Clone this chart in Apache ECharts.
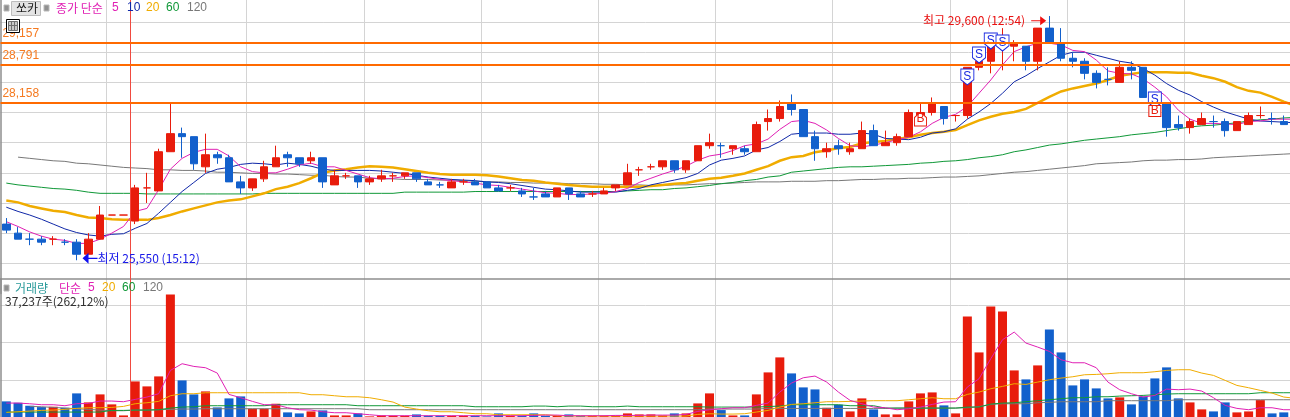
<!DOCTYPE html>
<html>
<head>
<meta charset="utf-8">
<title>쏘카</title>
<style>html,body{margin:0;padding:0;background:#fff}#chart{width:1290px;height:417px}</style>
<script src="https://cdn.jsdelivr.net/npm/echarts@6/dist/echarts.min.js"></script>
</head>
<body>
<div id="chart"></div>
<script>
// Intraday candles: open, close, high, low
const opens = [26150,26000,25900,25900,25900,25850,25850,25650,25900,26300,26300,26200,26750,26700,27350,27650,27600,27100,27300,27250,26850,26750,26900,27100,27300,27250,27200,27250,
26800,26950,26950,26850,26900,26950,26950,27000,26850,26800,26750,26850,26850,26850,26750,26750,26700,26600,26650,26600,26750,26650,26650,26650,26750,26800,27050,27100,
27100,27200,27050,27200,27450,27450,27400,27400,27350,27850,27900,28150,28050,27600,27350,27450,27350,27400,27700,27450,27500,27600,27950,28000,28100,27950,27950,
28750,28850,29100,29100,29100,28850,29400,29150,28900,28850,28650,28550,28500,28750,28750,28250,28150,27800,27750,27800,27850,27850,27700,27800,27950,27900,27850];
const closes = [26050,25900,25900,25850,25900,25850,25650,25900,26300,26300,26300,26750,26750,27350,27650,27600,27150,27300,27250,26850,26750,26900,27100,27250,27250,27150,27250,26850,
26950,26950,26850,26900,26950,26950,27000,26900,26800,26800,26850,26850,26800,26750,26700,26750,26650,26600,26600,26750,26650,26600,26650,26700,26800,27000,27050,27100,
27200,27050,27200,27450,27500,27450,27450,27350,27800,27900,28100,28050,27600,27400,27400,27400,27400,27700,27450,27500,27600,28000,28000,28150,27900,27950,28750,
28850,29100,29100,29150,28850,29400,29150,28900,28850,28650,28500,28550,28750,28700,28250,28150,27750,27750,27850,27900,27850,27700,27850,27950,27950,27900,27800];
const highs = [26250,26100,26000,25950,25950,25900,25900,26000,26450,26300,26300,26800,27000,27400,28150,27750,27600,27650,27350,27300,26950,26900,27200,27450,27350,27250,27350,27250,
27050,27000,26950,26950,27050,27000,27000,27000,26900,26850,26900,26900,26900,26850,26800,26800,26750,26750,26700,26750,26750,26700,26700,26750,26800,27150,27100,27150,
27200,27200,27200,27450,27650,27500,27450,27450,27850,28050,28200,28300,28050,27700,27500,27550,27500,27850,27800,27700,27650,28050,28150,28250,28100,27950,28750,
28950,29300,29400,29200,29100,29400,29600,29400,29000,28900,28700,28750,28850,28850,28750,28250,28150,27950,27900,28000,27950,27900,27850,28000,28100,28000,27950];
const lows = [26000,25900,25800,25800,25800,25800,25550,25650,25900,26300,26300,26150,26500,26700,27350,27250,27050,27000,27150,26850,26650,26700,26850,27100,27100,27100,27150,26750,
26800,26900,26750,26800,26850,26850,26900,26850,26800,26750,26750,26800,26800,26750,26700,26700,26600,26550,26600,26600,26550,26600,26600,26650,26700,26800,26950,27050,
27050,27000,27000,27200,27400,27250,27300,27300,27350,27700,27850,27950,27600,27200,27250,27300,27300,27400,27450,27450,27450,27600,27900,27950,27800,27850,27900,
28700,28650,28700,28850,28700,28700,29150,28850,28750,28550,28400,28450,28500,28550,28250,28050,27600,27700,27650,27800,27750,27600,27700,27800,27900,27800,27800];
// Candles with open == close that closed weaker than the previous print
const fallingDoji = [2,5,37,45,61,94,103,108];

// Price moving averages; the last entry is the running value past the latest candle
const priceMa5 = [26190,26110,26020,25950,25900,25880,25830,25830,25900,26000,26110,26360,26410,26720,27060,27240,27340,27390,27390,27280,27100,27020,27000,27000,27060,27130,27160,27100,
27100,27040,26980,26920,26900,26910,26940,26950,26920,26890,26870,26850,26830,26800,26790,26760,26730,26700,26670,26660,26640,26640,26650,26660,26690,26740,26840,26910,
26980,27040,27110,27210,27280,27310,27370,27450,27480,27560,27720,27850,27870,27820,27710,27570,27450,27430,27460,27500,27550,27590,27680,27820,27920,27970,28100,
28320,28540,28790,29010,29090,29150,29150,29120,29030,29010,28870,28690,28650,28640,28560,28420,28260,28040,27890,27820,27820,27810,27800,27850,27860,27890,27890,27890];
const priceMa10 = [26430,26360,26300,26230,26150,26070,26010,25970,25950,25980,25990,26080,26160,26330,26510,26690,26840,26990,27060,27090,27140,27160,27150,27130,27160,27140,27110,27060,
27040,27040,27040,27040,27030,27010,26990,26960,26930,26910,26890,26880,26870,26850,26840,26820,26790,26760,26730,26720,26700,26680,26680,26680,26680,26710,26740,26800,
26840,26880,26920,26990,27130,27210,27240,27280,27380,27420,27520,27640,27660,27660,27660,27640,27640,27660,27640,27570,27560,27550,27590,27660,27680,27730,27890,
28010,28150,28320,28510,28610,28730,28840,28950,29000,29000,28950,28900,28850,28820,28730,28620,28480,28370,28290,28180,28090,28010,27950,27890,27860,27850,27840,27830];
const priceMa20 = [26540,26510,26450,26410,26370,26350,26300,26260,26250,26230,26220,26220,26220,26250,26300,26360,26410,26460,26510,26540,26560,26610,26660,26730,26770,26830,26910,27000,
27040,27060,27090,27110,27100,27090,27060,27030,27000,26980,26970,26970,26970,26960,26940,26910,26880,26870,26840,26820,26800,26780,26770,26770,26770,26770,26770,26780,
26800,26820,26830,26870,26900,26920,26950,26990,27050,27110,27200,27260,27280,27340,27370,27410,27430,27490,27510,27530,27560,27590,27630,27660,27680,27710,27790,
27870,27930,27980,28010,28060,28160,28260,28350,28400,28440,28480,28540,28610,28640,28670,28670,28670,28660,28660,28610,28570,28510,28420,28360,28330,28260,28180,28110];
const priceMa60 = [26830,26800,26780,26760,26740,26730,26710,26680,26660,26660,26660,26660,26650,26650,26650,26650,26650,26650,26650,26650,26650,26650,26660,26660,26660,26660,26660,26660,
26660,26660,26660,26660,26660,26660,26680,26680,26680,26680,26680,26680,26690,26690,26690,26690,26690,26690,26690,26690,26690,26690,26690,26690,26690,26700,26710,26720,
26720,26740,26750,26770,26790,26820,26840,26870,26890,26930,26950,27010,27030,27050,27070,27090,27100,27100,27110,27120,27130,27140,27160,27170,27190,27200,27220,
27250,27270,27300,27350,27380,27420,27460,27480,27510,27540,27560,27580,27600,27630,27650,27670,27700,27730,27760,27780,27790,27810,27830,27860,27880,27890,27910,27920];
const priceMa120 = [null,27260,27240,27220,27200,27190,27160,27150,27130,27110,27090,27080,27070,27050,27050,27040,27040,27030,27010,27010,27000,26990,26990,26980,26980,26970,26960,26960,
26940,26930,26930,26910,26900,26900,26890,26890,26890,26880,26880,26870,26860,26850,26850,26840,26840,26830,26830,26830,26820,26820,26820,26810,26810,26800,26800,26790,
26790,26800,26800,26810,26820,26820,26830,26840,26850,26850,26850,26860,26860,26860,26870,26870,26880,26890,26890,26900,26900,26910,26910,26920,26930,26930,26940,
26950,26970,26990,27010,27020,27040,27060,27080,27100,27120,27150,27160,27170,27180,27200,27210,27210,27220,27220,27230,27250,27260,27270,27280,27290,27300,27310,27320];

// Traded volume and its moving averages
const volumes = [4280,3920,3120,2760,2850,2580,6420,4010,6150,3480,530,9620,8290,10960,32880,9890,6150,6950,2670,5080,5610,2320,2320,3650,1340,1070,1600,1870,
530,530,1070,270,530,450,450,800,450,450,450,450,450,270,1070,450,450,1070,450,450,800,450,450,450,450,1070,800,800,530,1070,1070,3740,6420,
1960,530,530,6150,12030,16040,11760,8020,7480,2580,3390,1600,5080,2140,800,800,4280,6420,6680,3210,1070,27000,17370,29670,28330,12560,10160,13900,23520,17370,8550,10160,7750,5080,5350,3480,5610,10420,13370,5080,4010,2140,1600,4010,1340,1600,4630,1070,1340];
const volMa5 = [3830,3830,3650,3390,3390,3120,3650,3740,4370,4370,4190,4810,5440,6330,12560,14350,13630,13280,11850,6150,5260,4280,3390,3390,2580,2050,1960,1510,
1250,1250,980,710,450,450,450,450,450,450,450,450,450,450,450,450,450,530,620,620,450,450,450,450,530,530,530,620,620,620,800,1600,2050,
2320,2580,2580,3210,3830,6770,9180,10600,11050,9440,6770,4540,3650,2760,2580,2050,2320,2760,3470,4100,4190,8110,10340,15680,
20760,22810,19870,18800,17640,15410,14610,14610,13280,9440,7400,6330,5440,5880,7570,7400,7570,7040,5260,3210,2410,2050,2580,2580,2050,2050];
const volMa20 = [1340,1510,1690,1870,1960,2140,2410,2580,2580,2670,2940,3650,3920,4280,5790,6330,6330,6590,6590,6590,6590,6590,6590,6590,6590,6590,6060,6060,
5790,5520,5520,5260,4720,4100,2760,2230,1780,1510,1510,1250,980,980,710,710,710,710,710,450,360,360,360,360,360,360,360,360,360,360,360,800,980,
890,890,980,1430,1870,2760,3470,3650,3920,4190,4190,4280,4370,4460,4460,4460,4720,4990,5260,4990,4990,6150,6770,7660,8290,9000,8820,9440,10070,10510,10870,11400,11490,11670,11940,11940,11940,12210,12560,12740,12740,11850,11230,9890,8550,7930,7220,6500,5440,5100];
const volMa60 = [1430,1430,1430,1430,1430,1430,1430,1430,1430,1870,1870,1960,1960,2050,2490,2760,2850,3120,3120,3120,3120,3120,3120,3390,3390,3390,3390,3390,
3390,3390,3120,3120,3120,3120,3120,3120,3120,3120,3120,3120,2850,2850,2850,2850,2850,3030,3030,2850,3030,3030,2850,2850,2850,3030,2850,2850,2850,2850,2850,2850,2760,
2760,2760,2760,2760,2900,3030,3390,3390,3390,3390,3390,3120,3120,3120,2490,2490,2490,2490,2490,2490,2490,2760,2760,3560,3830,3920,4190,4460,4720,4990,5260,5260,5520,5520,5700,5790,5880,6060,6240,6330,6330,6330,6330,6330,6330,6330,6590,6590,6590,6590];
const volMa120 = [null,null,2940,2850,2670,2490,2320,2140,1960,1780,1780,1960,1960,2050,2140,2230,2230,2320,2320,2320,2320,2320,2320,2320,2320,2320,2320,2320,
2320,2320,2320,2050,2050,2050,2050,2050,2050,2050,2050,2050,2050,2050,2050,2050,2050,2050,2050,2050,2050,2050,2050,2050,2050,2050,2050,2050,2050,2050,2050,2050,2230,
2230,2230,2230,2230,2400,2400,2400,2400,2400,2400,2400,2400,2400,2400,2400,2490,2490,2490,2490,2490,2490,2590,2900,3470,3650,3650,3650,3920,4010,4190,4190,4190,4190,4460,4460,4460,4460,4460,4460,4720,4720,4720,4720,4720,4720,4720,4720,4720,4720,4720];

// Support and resistance levels, buy/sell signals and session break
const priceLevels = [29157, 28791, 28158];
const sellSignals = [[82,28590],[83,28954],[84,29186],[85,29153],[98,28208]];
const buyPentagons = [[78,27893]];
const buyBoxes = [[98,28025]];
const dayHigh = [89, 29600];
const dayLow = [6, 25550];
const sessionBreak = [10.6];
const gridBreaks = [9,21,31,41,51,61,71,81,91,101];
// One spare slot past the last candle lets the averages run to the panel edge
const categories = priceMa5.map((_, i) => String(i));

const UP = '#e81c0c', DOWN = '#1260cc';
const GRID = '#d4d4d4', FRAME = '#8e8e8e';
const C5 = '#e020b4', C10 = '#1028a8', C20 = '#f0ac00', C60 = '#109838', C120 = '#787878';
const KR = '"Noto Sans CJK KR","Noto Sans",sans-serif';
const LAT = '"Liberation Sans",sans-serif';

const dojiDown = new Set(fallingDoji);
const isDown = i => closes[i] < opens[i] || dojiDown.has(i);
const candleData = opens.map((_, i) => {
  const item = { value: [opens[i], closes[i], lows[i], highs[i]] };
  if (opens[i] === closes[i]) {
    const c = isDown(i) ? DOWN : UP;
    item.itemStyle = { color: c, color0: c, borderColor: c, borderColor0: c, borderColorDoji: c };
  }
  return item;
});
const volumeData = volumes.map((v, i) => ({ value: v, itemStyle: { color: isDown(i) ? DOWN : UP } }));

const maLine = (name, data, color, width, xi, yi, z) => ({
  name, type: 'line', data, xAxisIndex: xi, yAxisIndex: yi, z,
  symbol: 'none', showSymbol: false, connectNulls: false,
  lineStyle: { color, width, join: 'miter' }, silent: true
});
const signal = (name, data, path, size, text, color, z) => ({
  name, type: 'scatter', data, xAxisIndex: 0, yAxisIndex: 0, z,
  symbol: path, symbolSize: size, symbolKeepAspect: false, silent: true,
  itemStyle: { color: '#fff', borderColor: color, borderWidth: 1, opacity: 1 },
  label: { show: true, position: 'inside', formatter: text, color, fontFamily: LAT, fontSize: 12, padding: 0 }
});
const txt = (x, y, text, fill, font = KR, size = 12) => ({
  type: 'text', x, y, silent: true, z: 30,
  style: { text, fill, font: `${size}px ${font}`, textVerticalAlign: 'middle' }
});
const sq = (x, y) => ({
  type: 'rect', silent: true, z: 30,
  shape: { x, y, width: 5, height: 6 },
  style: { fill: '#909090', stroke: '#b8b8b8', lineWidth: 1 }
});

const GRID_LEFT = 0.44, GRID_RIGHT = -11.36;
const option = {
  animation: false,
  backgroundColor: '#fff',
  grid: [
    { left: GRID_LEFT, right: GRID_RIGHT, top: -8.07, height: 301.5, outerBoundsMode: 'none' },
    { left: GRID_LEFT, right: GRID_RIGHT, top: 279, height: 138.4, outerBoundsMode: 'none' },
    { left: GRID_LEFT, right: GRID_RIGHT, top: 0, height: 417, outerBoundsMode: 'none' }
  ],
  xAxis: [
    { type: 'category', gridIndex: 0, data: categories, boundaryGap: true,
      axisLine: { show: false }, axisTick: { show: false }, axisLabel: { show: false },
      splitLine: { show: true, interval: i => gridBreaks.includes(i), lineStyle: { color: GRID, width: 1 } } },
    { type: 'category', gridIndex: 1, data: categories, boundaryGap: true, position: 'top',
      axisLine: { show: true, onZero: false, lineStyle: { color: FRAME, width: 1.5 } },
      axisTick: { show: false }, axisLabel: { show: false },
      splitLine: { show: true, interval: i => gridBreaks.includes(i), lineStyle: { color: GRID, width: 1 } } },
    { type: 'value', gridIndex: 2, min: -0.5, max: 110.5, show: false }
  ],
  yAxis: [
    { type: 'value', gridIndex: 0, min: 25000, max: 30000, interval: 500,
      axisLine: { show: true, onZero: false, lineStyle: { color: FRAME, width: 1.5 } },
      axisTick: { show: false }, axisLabel: { show: false },
      splitLine: { show: true, showMinLine: false, showMaxLine: false, lineStyle: { color: GRID, width: 1 } } },
    { type: 'value', gridIndex: 1, min: 0, max: 37000, interval: 10000,
      axisLine: { show: true, onZero: false, lineStyle: { color: FRAME, width: 1.5 } },
      axisTick: { show: false }, axisLabel: { show: false },
      splitLine: { show: true, showMinLine: false, showMaxLine: false, lineStyle: { color: GRID, width: 1 } } },
    { type: 'value', gridIndex: 2, min: 0, max: 1, show: false }
  ],
  series: [
    maLine('MA120', priceMa120, C120, 1, 0, 0, 2),
    maLine('MA60', priceMa60, C60, 1, 0, 0, 2),
    maLine('MA20', priceMa20, C20, 2.5, 0, 0, 2),
    maLine('MA10', priceMa10, C10, 1, 0, 0, 2),
    maLine('MA5', priceMa5, C5, 1, 0, 0, 2),
    { name: '쏘카', type: 'candlestick', data: candleData, xAxisIndex: 0, yAxisIndex: 0, z: 3,
      barWidth: 8, silent: true,
      itemStyle: { color: UP, color0: DOWN, borderColor: UP, borderColor0: DOWN, borderColorDoji: UP, borderWidth: 1 } },
    signal('매수', buyPentagons, 'path://M6 0L12 6V15H0V6Z', [12, 14], 'B', UP, 5),
    signal('매도', sellSignals, 'path://M0 0H12V10L6 15L0 10Z', [13, 16], 'S', '#1a2ae0', 5),
    signal('매수', buyBoxes, 'rect', [12, 11], 'B', UP, 6),
    { name: '최고', type: 'scatter', data: [dayHigh], xAxisIndex: 0, yAxisIndex: 0, z: 7, silent: true,
      symbol: 'path://M0 4H9V0L15 4.5L9 9V5H0Z', symbolSize: [15, 9], symbolOffset: [-10.7, 4.7],
      itemStyle: { color: '#f01010', opacity: 1 },
      label: { show: true, position: 'left', distance: 6, formatter: '최고 29,600 (12:54)', color: '#e81010', fontFamily: KR, fontSize: 12 } },
    { name: '최저', type: 'scatter', data: [dayLow], xAxisIndex: 0, yAxisIndex: 0, z: 7, silent: true,
      symbol: 'path://M15 4H6V0L0 4.5L6 9V5H15Z', symbolSize: [15, 11], symbolOffset: [13.4, -2],
      itemStyle: { color: '#1010f0', opacity: 1 },
      label: { show: true, position: 'right', distance: 0, formatter: '최저 25,550 (15:12)', color: '#1818e8', fontFamily: KR, fontSize: 12 } },
    { name: '기준선', type: 'line', data: [], xAxisIndex: 0, yAxisIndex: 0, z: 10, silent: true,
      markLine: {
        silent: true, symbol: 'none', animation: false, z: 10,
        lineStyle: { color: '#ff6a00', width: 2, type: 'solid' },
        label: { show: true, position: 'insideStartTop', distance: [2, 3], color: '#f57a20', fontFamily: LAT, fontSize: 12,
                 formatter: p => p.value.toLocaleString('en-US') },
        data: priceLevels.map(v => ({ yAxis: v }))
      } },

    { name: '거래량', type: 'bar', data: volumeData, xAxisIndex: 1, yAxisIndex: 1, z: 2, barWidth: 9, silent: true },
    maLine('거래량120', volMa120, C120, 1, 1, 1, 3),
    maLine('거래량60', volMa60, C60, 1, 1, 1, 3),
    maLine('거래량20', volMa20, C20, 1, 1, 1, 3),
    maLine('거래량5', volMa5, C5, 1, 1, 1, 3),

    { name: '장구분', type: 'line', data: [], xAxisIndex: 2, yAxisIndex: 2, z: 1, silent: true,
      markLine: {
        silent: true, symbol: 'none', animation: false, label: { show: false },
        lineStyle: { color: '#f04a40', width: 1, type: 'solid' },
        data: sessionBreak.map(v => ({ xAxis: v }))
      } }
  ],
  graphic: [
    sq(4, 5),
    { type: 'rect', silent: true, z: 30, shape: { x: 11.5, y: 1.5, width: 29, height: 14 },
      style: { fill: '#e4e4e4', stroke: '#bcbcbc', lineWidth: 1 } },
    txt(16, 8.5, '쏘카', '#202020'),
    sq(44, 5),
    txt(56, 8, '종가 단순', C5),
    txt(112, 8, '5', C5, LAT),
    txt(127, 8, '10', C10, LAT),
    txt(146, 8, '20', C20, LAT),
    txt(166, 8, '60', C60, LAT),
    txt(187, 8, '120', C120, LAT),
    { type: 'rect', silent: true, z: 30, shape: { x: 6.5, y: 19.5, width: 13, height: 13 },
      style: { fill: '#fff', stroke: '#000', lineWidth: 1 } },
    { type: 'rect', silent: true, z: 31, shape: { x: 8.5, y: 21.5, width: 9, height: 9 },
      style: { fill: '#c8c8c8', stroke: '#707070', lineWidth: 1 } },
    { type: 'line', silent: true, z: 32, shape: { x1: 11.5, y1: 22, x2: 11.5, y2: 30 }, style: { stroke: '#707070', lineWidth: 1 } },
    { type: 'line', silent: true, z: 32, shape: { x1: 14.5, y1: 22, x2: 14.5, y2: 30 }, style: { stroke: '#707070', lineWidth: 1 } },
    { type: 'line', silent: true, z: 32, shape: { x1: 9, y1: 25.5, x2: 17, y2: 25.5 }, style: { stroke: '#707070', lineWidth: 1 } },
    sq(4, 285),
    txt(15, 288, '거래량', '#2a9a9a'),
    txt(59, 288, '단순', C5),
    txt(88, 288, '5', C5, LAT),
    txt(102, 288, '20', C20, LAT),
    txt(122, 288, '60', C60, LAT),
    txt(143, 288, '120', C120, LAT),
    txt(5, 301.5, '37,237주(262,12%)', '#303030', KR, 12)
  ]
};

echarts.init(document.getElementById('chart'), null, { renderer: 'canvas' }).setOption(option);
</script>
</body>
</html>
